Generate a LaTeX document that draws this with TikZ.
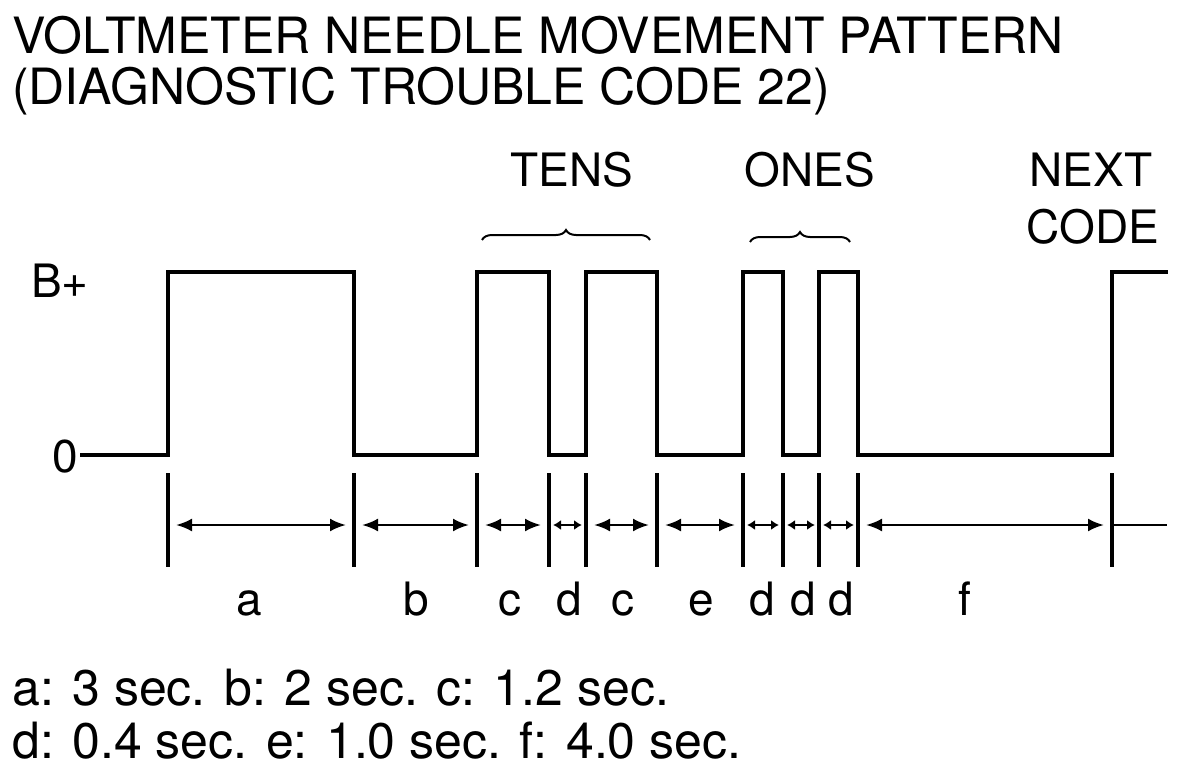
\documentclass[tikz,border=0pt]{standalone}
\usepackage{fontspec}
\setmainfont{TeX Gyre Heros}
\usetikzlibrary{arrows.meta,decorations.pathreplacing}

\begin{document}
\begin{tikzpicture}[
    x=1pt, y=-1pt,
    wave/.style={line width=4pt, line join=miter, line cap=rect},
    tickline/.style={line width=3.5pt},
    dim/.style={line width=2.5pt, {Latex[length=16pt,width=13pt]}-{Latex[length=16pt,width=13pt]}, shorten <=8pt, shorten >=8pt},
    dimshort/.style={line width=2.5pt, {Latex[length=8pt,width=10pt]}-{Latex[length=8pt,width=10pt]}, shorten <=4pt, shorten >=4pt},
    brc/.style={decorate, decoration={brace, amplitude=10pt}, line width=2pt},
    big/.style={inner sep=0pt, font=\fontsize{50}{50}\selectfont},
    lbl/.style={inner sep=0pt, font=\fontsize{46}{46}\selectfont},
    seg/.style={inner sep=0pt, anchor=base, font=\fontsize{46}{46}\selectfont}
  ]
  \useasboundingbox (0,0) rectangle (1184,768);

  % Title
  \node[big, anchor=base west] (title1) at (12,54) {VOLTMETER NEEDLE MOVEMENT PATTERN};
  \node[big, anchor=base west] (title2) at (12,104) {(DIAGNOSTIC TROUBLE CODE 22)};

  % Levels
  \node[lbl, anchor=base] (bplus) at (60,297) {B+};
  \node[lbl, anchor=base east] (zero) at (78,472) {0};

  % Waveform
  \draw[wave] (82,455) -- (168,455) -- (168,272) -- (354,272) -- (354,455)
    -- (477,455) -- (477,272) -- (549,272) -- (549,455)
    -- (586,455) -- (586,272) -- (657,272) -- (657,455)
    -- (743,455) -- (743,272) -- (783,272) -- (783,455)
    -- (819,455) -- (819,272) -- (858,272) -- (858,455)
    -- (1112,455) -- (1112,272) -- (1166,272);

  % Groups
  \node[lbl, anchor=base] (tens) at (572,186) {TENS};
  \node[lbl, anchor=base] (ones) at (810,186) {ONES};
  \node[lbl, anchor=base] (next) at (1091,186) {NEXT};
  \node[lbl, anchor=base] (code) at (1093,243) {CODE};
  \draw[brc] (482,240) -- (650,240);
  \draw[brc] (750,242) -- (850,242);

  % Time marks
  \foreach \t [count=\i] in {168,354,477,549,586,657,743,783,819,858,1112} {
    \coordinate (t\i) at (\t,525);
    \draw[tickline] (\t,473) -- (\t,567);
  }
  \foreach \l/\r in {1/2,2/3,3/4,5/6,6/7,10/11}
    \draw[dim] (t\l) -- (t\r);
  \foreach \l/\r in {4/5,7/8,8/9,9/10}
    \draw[dimshort] (t\l) -- (t\r);
  \coordinate (tend) at (1167,525);
  \draw[line width=2.5pt] (t11) -- (tend);

  % Segment names
  \foreach \x/\s in {249/a,416/b,510/c,569/d,623/c,701/e,762/d,803/d,841/d,965/f}
    \node[seg] at (\x,615) {\s};

  % Durations
  \node[big, anchor=base west] (key1) at (12,705) {a: 3 sec. b: 2 sec. c: 1.2 sec.};
  \node[big, anchor=base west] (key2) at (12,758) {d: 0.4 sec. e: 1.0 sec. f: 4.0 sec.};
\end{tikzpicture}
\end{document}
